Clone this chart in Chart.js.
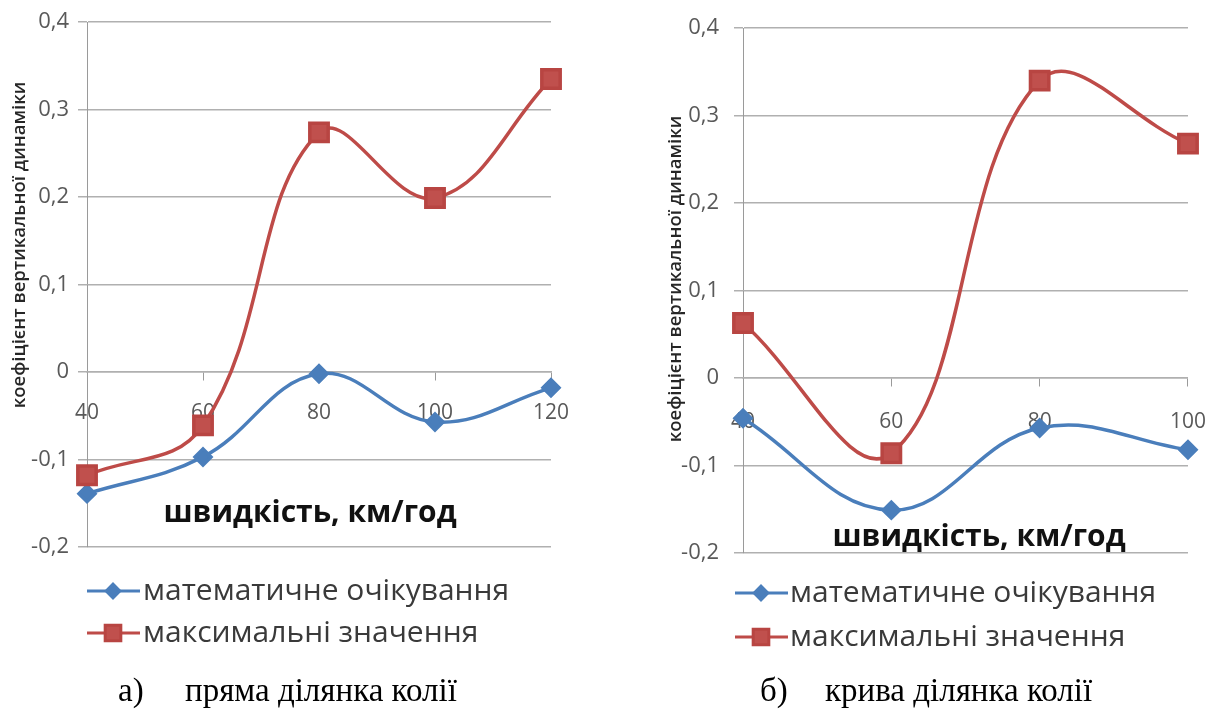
<!DOCTYPE html>
<html>
<head>
<meta charset="utf-8">
<script src="https://cdn.jsdelivr.net/npm/chart.js@4.4.1/dist/chart.umd.min.js"></script>
<style>
  body { margin: 0; background: #fff; width: 1229px; height: 722px; position: relative; overflow: hidden; }
  .box { position: absolute; top: 0; width: 614px; height: 722px; }
</style>
</head>
<body>
<div class="box" style="left:0"><canvas id="chartA"></canvas></div>
<div class="box" style="left:615px"><canvas id="chartB"></canvas></div>
<script>
// data
var speedsA = ["40", "60", "80", "100", "120"];
var meanA = [-0.139, -0.097, -0.002, -0.057, -0.018];
var maxA = [-0.118, -0.061, 0.274, 0.199, 0.335];

var speedsB = ["40", "60", "80", "100"];
var meanB = [-0.046, -0.151, -0.057, -0.082];
var maxB = [0.063, -0.086, 0.340, 0.268];

var seriesNames = ["математичне очікування", "максимальні значення"];
var xTitle = "швидкість, км/год";
var yTitle = "коефіцієнт вертикальної динаміки";
var captionA = ["а)", "пряма ділянка колії"];
var captionB = ["б)", "крива ділянка колії"];

var blue = "#4a7ebb";
var red = "#be4b48";

// titles, legend and caption drawn on top of the chart
var extras = {
    id: "extras",
    afterDraw: function (chart) {
        var o = chart.options.plugins.extras;
        var ctx = chart.ctx;
        ctx.save();

        ctx.fillStyle = "#111";
        ctx.font = "bold 30px 'Open Sans'";
        ctx.textAlign = "center";
        ctx.textBaseline = "middle";
        ctx.fillText(xTitle, o.xTitle[0], o.xTitle[1]);

        ctx.save();
        ctx.translate(o.yTitle[0], o.yTitle[1]);
        ctx.rotate(-Math.PI / 2);
        ctx.font = "600 18.5px 'Open Sans'";
        ctx.fillStyle = "#262626";
        ctx.fillText(yTitle, 0, 0);
        ctx.restore();

        // legend: line with marker, like the spreadsheet legend
        chart.data.datasets.forEach(function (ds, i) {
            var y = o.legend[1] + i * o.legend[3];
            ctx.strokeStyle = ds.borderColor;
            ctx.lineWidth = 3;
            ctx.beginPath();
            ctx.moveTo(o.legend[0], y);
            ctx.lineTo(o.legend[0] + 53, y);
            ctx.stroke();
            ctx.fillStyle = ds.pointBackgroundColor;
            ctx.strokeStyle = ds.pointBorderColor;
            Chart.helpers.drawPoint(ctx, {
                pointStyle: ds.pointStyle,
                radius: ds.pointRadius * 0.85,
                rotation: 0,
                borderWidth: 1
            }, o.legend[0] + 26, y);
            ctx.fillStyle = "#3a3a3a";
            ctx.font = "30px 'Open Sans'";
            ctx.textAlign = "left";
            ctx.textBaseline = "middle";
            ctx.fillText(ds.label, o.legend[2], y);
        });

        ctx.fillStyle = "#000";
        ctx.font = "33px 'Liberation Serif'";
        ctx.textAlign = "left";
        ctx.textBaseline = "alphabetic";
        ctx.fillText(o.caption[0], o.captionX[0], o.captionY);
        ctx.fillText(o.caption[1], o.captionX[1], o.captionY);
        ctx.restore();
    }
};

function fmt(v) {
    var r = Math.round(v * 10) / 10;
    if (r === 0) return "0";
    return r.toFixed(1).replace(".", ",");
}

function makeChart(id, labels, mean, max, lay) {
    return new Chart(document.getElementById(id), {
        type: "line",
        data: {
            labels: labels,
            datasets: [{
                label: seriesNames[0],
                data: mean,
                borderColor: blue,
                backgroundColor: blue,
                pointBackgroundColor: blue,
                pointBorderColor: blue,
                pointStyle: "rectRot",
                pointRadius: 8,
                borderWidth: 3.5,
                tension: 0.4,
                order: 1
            }, {
                label: seriesNames[1],
                data: max,
                borderColor: red,
                backgroundColor: "#c0504d",
                pointBackgroundColor: "#c0504d",
                pointBorderColor: "#b84542",
                pointStyle: "rect",
                pointRadius: 13,
                borderWidth: 3.5,
                tension: 0.4,
                order: 0
            }]
        },
        plugins: [extras],
        options: {
            responsive: true,
            maintainAspectRatio: false,
            animation: false,
            layout: {
                padding: lay.padding
            },
            plugins: {
                legend: { display: false },
                tooltip: { enabled: false },
                extras: lay
            },
            scales: {
                y: {
                    min: -0.2,
                    max: 0.4,
                    afterFit: function (s) { s.width = lay.axisLeft; },
                    ticks: {
                        stepSize: 0.1,
                        padding: lay.yPad,
                        color: "#595959",
                        font: { family: "Open Sans", size: 22 },
                        callback: function (v) { return fmt(v); }
                    },
                    grid: {
                        color: "#b0b0b0",
                        lineWidth: 1.5,
                        tickLength: 9
                    },
                    border: { color: "#9a9a9a", width: 1 }
                },
                x: {
                    position: { y: 0 },
                    z: 1,
                    afterFit: function (s) { s.height = 0; },
                    ticks: {
                        autoSkip: false,
                        maxRotation: 0,
                        padding: lay.xPad,
                        color: "#595959",
                        font: { family: "Open Sans", size: 21 }
                    },
                    grid: {
                        drawOnChartArea: false,
                        color: "#9a9a9a",
                        tickLength: 8
                    },
                    border: { color: "#b0b0b0", width: 1.5 }
                }
            }
        }
    });
}

makeChart("chartA", speedsA, meanA, maxA, {
    padding: { left: 0, top: 20, right: 63, bottom: 175 },
    axisLeft: 87,
    yPad: 9,
    xPad: 20,
    xTitle: [310, 513],
    yTitle: [20, 245],
    legend: [87, 591, 143, 42],
    caption: captionA,
    captionX: [118, 185],
    captionY: 701
});

makeChart("chartB", speedsB, meanB, maxB, {
    padding: { left: 0, top: 28, right: 32, bottom: 169 },
    axisLeft: 128,
    yPad: 15,
    xPad: 23,
    xTitle: [364, 537],
    yTitle: [61, 279],
    legend: [120, 593, 175, 44],
    caption: captionB,
    captionX: [145, 210],
    captionY: 701
});
</script>
</body>
</html>
